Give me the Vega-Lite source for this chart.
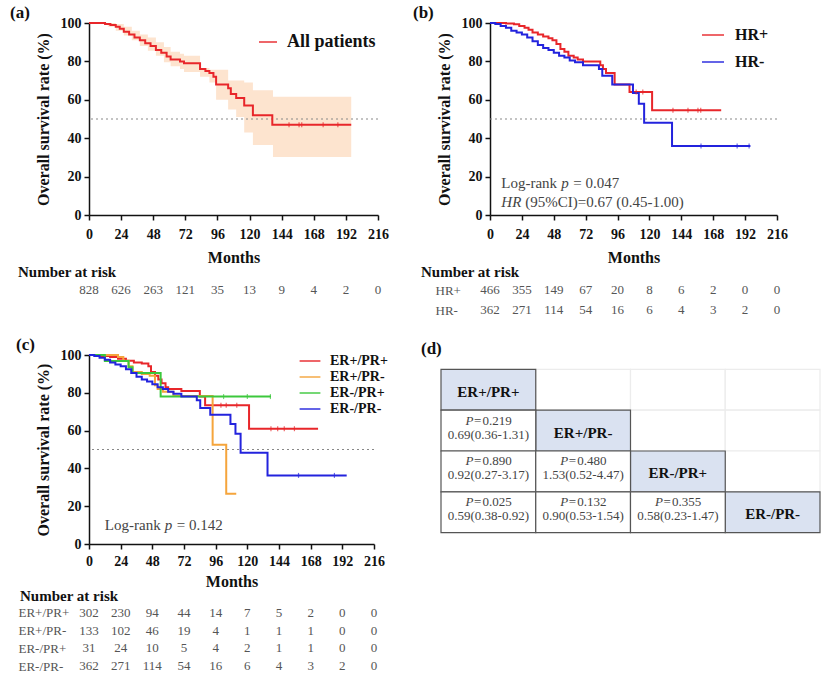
{
"$schema":"https://vega.github.io/schema/vega-lite/v6.json",
"padding":{"left":10,"top":4,"right":0,"bottom":0},
"background":"white",
"config":{
 "font":"Liberation Serif",
 "view":{"stroke":null},
 "axis":{"labelFont":"Liberation Serif","labelFontSize":14,"labelFontWeight":"bold","labelColor":"#111","labelOverlap":false,"titleFont":"Liberation Serif","titleFontSize":16,"titleFontWeight":"bold","titleColor":"#111","domainColor":"#111","domainWidth":1.5,"tickColor":"#111","tickWidth":1.5,"tickSize":5,"grid":false},
 "title":{"font":"Liberation Serif","fontSize":17,"fontWeight":"bold","color":"#111"},
 "legend":{"labelFont":"Liberation Serif","labelFontWeight":"bold","labelColor":"#111"},
 "text":{"font":"Liberation Serif"}
},
"datasets":{
 "kmA":[
  {"g":"All patients","m":0,"s":100},{"g":"All patients","m":8,"s":100},{"g":"All patients","m":12,"s":99.5},{"g":"All patients","m":16,"s":99},{"g":"All patients","m":20,"s":98},{"g":"All patients","m":23,"s":97},{"g":"All patients","m":26,"s":95.5},{"g":"All patients","m":30,"s":94},{"g":"All patients","m":34,"s":92.5},{"g":"All patients","m":38,"s":91},{"g":"All patients","m":42,"s":89.5},{"g":"All patients","m":46,"s":88},{"g":"All patients","m":50,"s":86},{"g":"All patients","m":54,"s":84.5},{"g":"All patients","m":58,"s":82.5},{"g":"All patients","m":61,"s":81},{"g":"All patients","m":68,"s":80},{"g":"All patients","m":71,"s":79},{"g":"All patients","m":83,"s":76},{"g":"All patients","m":87,"s":75},{"g":"All patients","m":90,"s":74},{"g":"All patients","m":93,"s":72},{"g":"All patients","m":95,"s":68},{"g":"All patients","m":104,"s":66},{"g":"All patients","m":106,"s":63},{"g":"All patients","m":110,"s":61},{"g":"All patients","m":116,"s":57},{"g":"All patients","m":122.5,"s":52},{"g":"All patients","m":137,"s":47},{"g":"All patients","m":196,"s":47}
 ],
 "ciA":[
  {"m":0,"lo":100,"hi":100},{"m":8,"lo":99.5,"hi":100},{"m":14,"lo":98,"hi":100},{"m":20,"lo":96,"hi":99.5},{"m":26,"lo":93.5,"hi":98},{"m":32,"lo":91,"hi":96},{"m":38,"lo":88,"hi":94},{"m":44,"lo":85.5,"hi":92.5},{"m":50,"lo":83,"hi":90},{"m":56,"lo":79.5,"hi":87.5},{"m":61,"lo":77.5,"hi":85},{"m":68,"lo":76,"hi":84},{"m":71,"lo":74.5,"hi":83},{"m":83,"lo":72,"hi":76.5},{"m":90,"lo":69,"hi":75.7},{"m":95,"lo":60,"hi":75.7},{"m":104,"lo":55,"hi":70},{"m":110,"lo":51,"hi":70},{"m":116,"lo":43,"hi":69},{"m":122.5,"lo":36.5,"hi":65},{"m":137.5,"lo":30.2,"hi":61.6},{"m":196,"lo":30.2,"hi":61.6}
 ],
 "censA":[
  {"g":"All patients","m":149.5,"s":47},{"g":"All patients","m":157,"s":47},{"g":"All patients","m":159,"s":47},{"g":"All patients","m":175,"s":47},{"g":"All patients","m":186,"s":47}
 ],
 "kmB":[
  {"g":"HR+","m":0,"s":100},{"g":"HR+","m":12,"s":99.8},{"g":"HR+","m":18,"s":99.3},{"g":"HR+","m":22,"s":98.5},{"g":"HR+","m":26,"s":97.5},{"g":"HR+","m":29,"s":96.5},{"g":"HR+","m":32,"s":95},{"g":"HR+","m":36,"s":94},{"g":"HR+","m":40,"s":93},{"g":"HR+","m":44,"s":92},{"g":"HR+","m":47,"s":91},{"g":"HR+","m":50,"s":89},{"g":"HR+","m":53,"s":86.5},{"g":"HR+","m":56,"s":85},{"g":"HR+","m":59,"s":83},{"g":"HR+","m":63,"s":82},{"g":"HR+","m":66,"s":81},{"g":"HR+","m":70,"s":80},{"g":"HR+","m":83,"s":78},{"g":"HR+","m":85,"s":76},{"g":"HR+","m":87.3,"s":74},{"g":"HR+","m":93.8,"s":68},{"g":"HR+","m":105,"s":64},{"g":"HR+","m":122,"s":54.5},{"g":"HR+","m":174,"s":54.5},
  {"g":"HR-","m":0,"s":100},{"g":"HR-","m":4,"s":99.5},{"g":"HR-","m":8,"s":98.5},{"g":"HR-","m":12,"s":97.5},{"g":"HR-","m":16,"s":96},{"g":"HR-","m":20,"s":95},{"g":"HR-","m":24,"s":94},{"g":"HR-","m":28,"s":92.5},{"g":"HR-","m":32,"s":90.5},{"g":"HR-","m":36,"s":88.5},{"g":"HR-","m":40,"s":87},{"g":"HR-","m":44,"s":86},{"g":"HR-","m":48,"s":84.5},{"g":"HR-","m":52,"s":83},{"g":"HR-","m":56,"s":82},{"g":"HR-","m":60,"s":80.5},{"g":"HR-","m":64,"s":79.5},{"g":"HR-","m":70,"s":78},{"g":"HR-","m":82,"s":76},{"g":"HR-","m":84.5,"s":72.5},{"g":"HR-","m":92,"s":68},{"g":"HR-","m":107.6,"s":63.5},{"g":"HR-","m":112,"s":58},{"g":"HR-","m":116,"s":48},{"g":"HR-","m":137,"s":36},{"g":"HR-","m":196,"s":36}
 ],
 "censB":[
  {"g":"HR+","m":137.7,"s":54.5},{"g":"HR+","m":149,"s":54.5},{"g":"HR+","m":156.5,"s":54.5},{"g":"HR+","m":158.6,"s":54.5},{"g":"HR+","m":110,"s":64},{"g":"HR+","m":115,"s":64},
  {"g":"HR-","m":158.8,"s":36},{"g":"HR-","m":186,"s":36},{"g":"HR-","m":195,"s":36}
 ],
 "kmC":[
  {"g":"ER+/PR+","m":0,"s":100},{"g":"ER+/PR+","m":9,"s":99.5},{"g":"ER+/PR+","m":16,"s":99},{"g":"ER+/PR+","m":22,"s":98},{"g":"ER+/PR+","m":28,"s":97},{"g":"ER+/PR+","m":34,"s":96},{"g":"ER+/PR+","m":40,"s":95.5},{"g":"ER+/PR+","m":45,"s":94},{"g":"ER+/PR+","m":47,"s":91},{"g":"ER+/PR+","m":50,"s":89},{"g":"ER+/PR+","m":52.5,"s":87},{"g":"ER+/PR+","m":55,"s":85},{"g":"ER+/PR+","m":58,"s":83},{"g":"ER+/PR+","m":60,"s":82},{"g":"ER+/PR+","m":70,"s":81},{"g":"ER+/PR+","m":84,"s":78},{"g":"ER+/PR+","m":88,"s":73.4},{"g":"ER+/PR+","m":121.3,"s":61},{"g":"ER+/PR+","m":173.6,"s":61},
  {"g":"ER+/PR-","m":0,"s":100},{"g":"ER+/PR-","m":16,"s":100},{"g":"ER+/PR-","m":22,"s":99},{"g":"ER+/PR-","m":26,"s":97},{"g":"ER+/PR-","m":30,"s":94},{"g":"ER+/PR-","m":33,"s":91},{"g":"ER+/PR-","m":40,"s":90},{"g":"ER+/PR-","m":46,"s":89},{"g":"ER+/PR-","m":50,"s":84},{"g":"ER+/PR-","m":52,"s":82},{"g":"ER+/PR-","m":56,"s":80.5},{"g":"ER+/PR-","m":64,"s":78.3},{"g":"ER+/PR-","m":93.7,"s":52.5},{"g":"ER+/PR-","m":104,"s":26.6},{"g":"ER+/PR-","m":111.6,"s":26.6},
  {"g":"ER-/PR+","m":0,"s":100},{"g":"ER-/PR+","m":12,"s":96.8},{"g":"ER-/PR+","m":30,"s":93.5},{"g":"ER-/PR+","m":33,"s":90.5},{"g":"ER-/PR+","m":54.3,"s":78},{"g":"ER-/PR+","m":137.9,"s":78},
  {"g":"ER-/PR-","m":0,"s":100},{"g":"ER-/PR-","m":4,"s":99.5},{"g":"ER-/PR-","m":8,"s":98.5},{"g":"ER-/PR-","m":12,"s":97.5},{"g":"ER-/PR-","m":16,"s":96},{"g":"ER-/PR-","m":20,"s":95},{"g":"ER-/PR-","m":24,"s":94},{"g":"ER-/PR-","m":28,"s":92.5},{"g":"ER-/PR-","m":32,"s":90.5},{"g":"ER-/PR-","m":36,"s":88.5},{"g":"ER-/PR-","m":40,"s":87},{"g":"ER-/PR-","m":44,"s":86},{"g":"ER-/PR-","m":48,"s":84.5},{"g":"ER-/PR-","m":52,"s":83},{"g":"ER-/PR-","m":56,"s":82},{"g":"ER-/PR-","m":60,"s":80.5},{"g":"ER-/PR-","m":64,"s":79.5},{"g":"ER-/PR-","m":70,"s":78},{"g":"ER-/PR-","m":81.7,"s":76},{"g":"ER-/PR-","m":84.3,"s":72},{"g":"ER-/PR-","m":91.9,"s":68.4},{"g":"ER-/PR-","m":107.2,"s":63.5},{"g":"ER-/PR-","m":111,"s":58.3},{"g":"ER-/PR-","m":114.9,"s":48.3},{"g":"ER-/PR-","m":135.3,"s":36.3},{"g":"ER-/PR-","m":195.3,"s":36.3}
 ],
 "censC":[
  {"g":"ER+/PR+","m":137.9,"s":61},{"g":"ER+/PR+","m":143,"s":61},{"g":"ER+/PR+","m":148,"s":61},{"g":"ER+/PR+","m":155.7,"s":61},{"g":"ER+/PR+","m":100,"s":73.4},{"g":"ER+/PR+","m":104,"s":73.4},{"g":"ER+/PR+","m":112,"s":73.4},
  {"g":"ER-/PR+","m":102,"s":78},{"g":"ER-/PR+","m":120,"s":78},{"g":"ER-/PR+","m":137.5,"s":78},
  {"g":"ER-/PR-","m":158.8,"s":36.3},{"g":"ER-/PR-","m":186,"s":36.3}
 ],
 "riskA":[
  {"m":0,"n":828},{"m":24,"n":626},{"m":48,"n":263},{"m":72,"n":121},{"m":96,"n":35},{"m":120,"n":13},{"m":144,"n":9},{"m":168,"n":4},{"m":192,"n":2},{"m":216,"n":0}
 ],
 "riskB":[
  {"g":"HR+","m":0,"n":466},{"g":"HR+","m":24,"n":355},{"g":"HR+","m":48,"n":149},{"g":"HR+","m":72,"n":67},{"g":"HR+","m":96,"n":20},{"g":"HR+","m":120,"n":8},{"g":"HR+","m":144,"n":6},{"g":"HR+","m":168,"n":2},{"g":"HR+","m":192,"n":0},{"g":"HR+","m":216,"n":0},
  {"g":"HR-","m":0,"n":362},{"g":"HR-","m":24,"n":271},{"g":"HR-","m":48,"n":114},{"g":"HR-","m":72,"n":54},{"g":"HR-","m":96,"n":16},{"g":"HR-","m":120,"n":6},{"g":"HR-","m":144,"n":4},{"g":"HR-","m":168,"n":3},{"g":"HR-","m":192,"n":2},{"g":"HR-","m":216,"n":0}
 ],
 "riskC":[
  {"g":"ER+/PR+","m":0,"n":302},{"g":"ER+/PR+","m":24,"n":230},{"g":"ER+/PR+","m":48,"n":94},{"g":"ER+/PR+","m":72,"n":44},{"g":"ER+/PR+","m":96,"n":14},{"g":"ER+/PR+","m":120,"n":7},{"g":"ER+/PR+","m":144,"n":5},{"g":"ER+/PR+","m":168,"n":2},{"g":"ER+/PR+","m":192,"n":0},{"g":"ER+/PR+","m":216,"n":0},
  {"g":"ER+/PR-","m":0,"n":133},{"g":"ER+/PR-","m":24,"n":102},{"g":"ER+/PR-","m":48,"n":46},{"g":"ER+/PR-","m":72,"n":19},{"g":"ER+/PR-","m":96,"n":4},{"g":"ER+/PR-","m":120,"n":1},{"g":"ER+/PR-","m":144,"n":1},{"g":"ER+/PR-","m":168,"n":1},{"g":"ER+/PR-","m":192,"n":0},{"g":"ER+/PR-","m":216,"n":0},
  {"g":"ER-/PR+","m":0,"n":31},{"g":"ER-/PR+","m":24,"n":24},{"g":"ER-/PR+","m":48,"n":10},{"g":"ER-/PR+","m":72,"n":5},{"g":"ER-/PR+","m":96,"n":4},{"g":"ER-/PR+","m":120,"n":2},{"g":"ER-/PR+","m":144,"n":1},{"g":"ER-/PR+","m":168,"n":1},{"g":"ER-/PR+","m":192,"n":0},{"g":"ER-/PR+","m":216,"n":0},
  {"g":"ER-/PR-","m":0,"n":362},{"g":"ER-/PR-","m":24,"n":271},{"g":"ER-/PR-","m":48,"n":114},{"g":"ER-/PR-","m":72,"n":54},{"g":"ER-/PR-","m":96,"n":16},{"g":"ER-/PR-","m":120,"n":6},{"g":"ER-/PR-","m":144,"n":4},{"g":"ER-/PR-","m":168,"n":3},{"g":"ER-/PR-","m":192,"n":2},{"g":"ER-/PR-","m":216,"n":0}
 ],
 "tableD":[
  {"r":"ER+/PR+","c":"ER+/PR-","kind":"upper","label":"","p":"","hr":""},
  {"r":"ER+/PR+","c":"ER-/PR+","kind":"upper","label":"","p":"","hr":""},
  {"r":"ER+/PR+","c":"ER-/PR-","kind":"upper","label":"","p":"","hr":""},
  {"r":"ER+/PR-","c":"ER-/PR+","kind":"upper","label":"","p":"","hr":""},
  {"r":"ER+/PR-","c":"ER-/PR-","kind":"upper","label":"","p":"","hr":""},
  {"r":"ER-/PR+","c":"ER-/PR-","kind":"upper","label":"","p":"","hr":""},
  {"r":"ER+/PR+","c":"ER+/PR+","kind":"diag","label":"ER+/PR+","p":"","hr":""},
  {"r":"ER+/PR-","c":"ER+/PR-","kind":"diag","label":"ER+/PR-","p":"","hr":""},
  {"r":"ER-/PR+","c":"ER-/PR+","kind":"diag","label":"ER-/PR+","p":"","hr":""},
  {"r":"ER-/PR-","c":"ER-/PR-","kind":"diag","label":"ER-/PR-","p":"","hr":""},
  {"r":"ER+/PR-","c":"ER+/PR+","kind":"lower","label":"","p":"0.219","hr":"0.69(0.36-1.31)"},
  {"r":"ER-/PR+","c":"ER+/PR+","kind":"lower","label":"","p":"0.890","hr":"0.92(0.27-3.17)"},
  {"r":"ER-/PR+","c":"ER+/PR-","kind":"lower","label":"","p":"0.480","hr":"1.53(0.52-4.47)"},
  {"r":"ER-/PR-","c":"ER+/PR+","kind":"lower","label":"","p":"0.025","hr":"0.59(0.38-0.92)"},
  {"r":"ER-/PR-","c":"ER+/PR-","kind":"lower","label":"","p":"0.132","hr":"0.90(0.53-1.54)"},
  {"r":"ER-/PR-","c":"ER-/PR+","kind":"lower","label":"","p":"0.355","hr":"0.58(0.23-1.47)"}
 ]
},
"resolve":{"scale":{"color":"independent"},"legend":{"color":"independent"}},
"spacing":16,
"vconcat":[
 {"hconcat":[
  {"vconcat":[
   {"width":289,"height":192,
    "title":{"text":"(a)","anchor":"start","frame":"group","dx":-79,"offset":-6},
    "layer":[
     {"data":{"name":"ciA"},"mark":{"type":"area","interpolate":"step-after","color":"#fde4cf"},
      "encoding":{
       "x":{"field":"m","type":"quantitative","title":"Months","scale":{"domain":[0,216],"nice":false},"axis":{"values":[0,24,48,72,96,120,144,168,192,216],"tickCount":20,"labelOverlap":false,"labelPadding":7,"titlePadding":8,"labelFlush":false}},
       "y":{"field":"lo","type":"quantitative","title":"Overall survival rate (%)","scale":{"domain":[0,100],"nice":false},"axis":{"values":[0,20,40,60,80,100],"tickCount":20,"labelOverlap":false,"labelPadding":3,"titlePadding":9}},
       "y2":{"field":"hi"}}},
     {"data":{"values":[{}]},"mark":{"type":"rule","color":"#888","strokeDash":[2,3],"strokeWidth":1.2},"encoding":{"y":{"datum":50}}},
     {"data":{"name":"kmA"},"mark":{"type":"line","interpolate":"step-after","strokeWidth":2},
      "encoding":{
       "x":{"field":"m","type":"quantitative","title":"Months"},
       "y":{"field":"s","type":"quantitative","title":"Overall survival rate (%)"},
       "color":{"field":"g","type":"nominal","scale":{"domain":["All patients"],"range":["#e8262a"]},
        "legend":{"title":null,"orient":"none","legendX":169,"legendY":9,"symbolType":"stroke","symbolSize":324,"symbolStrokeWidth":2,"labelFontSize":18,"labelOffset":9}}}},
     {"data":{"name":"censA"},"mark":{"type":"tick","orient":"vertical","size":5,"thickness":1.2},
      "encoding":{
       "x":{"field":"m","type":"quantitative","title":"Months"},
       "y":{"field":"s","type":"quantitative","title":"Overall survival rate (%)"},
       "color":{"field":"g","type":"nominal"}}}
    ]},
   {"width":289,"height":20,
    "title":{"text":"Number at risk","anchor":"start","frame":"group","dx":-71,"offset":0,"fontSize":15},
    "data":{"name":"riskA"},
    "mark":{"type":"text","fontSize":13,"color":"#555"},
    "encoding":{
     "x":{"field":"m","type":"quantitative","scale":{"domain":[0,216],"nice":false},"axis":null},
     "text":{"field":"n","type":"quantitative"}}}
  ],"spacing":0},
  {"vconcat":[
   {"width":287,"height":192,
    "title":{"text":"(b)","anchor":"start","frame":"group","dx":-77,"offset":-6},
    "layer":[
     {"data":{"values":[{}]},"mark":{"type":"rule","color":"#888","strokeDash":[2,3],"strokeWidth":1.2},"encoding":{"y":{"datum":50,"type":"quantitative","scale":{"domain":[0,100],"nice":false}}}},
     {"data":{"name":"kmB"},"mark":{"type":"line","interpolate":"step-after","strokeWidth":2},
      "encoding":{
       "x":{"field":"m","type":"quantitative","title":"Months","scale":{"domain":[0,216],"nice":false},"axis":{"values":[0,24,48,72,96,120,144,168,192,216],"tickCount":20,"labelOverlap":false,"labelPadding":7,"titlePadding":8,"labelFlush":false}},
       "y":{"field":"s","type":"quantitative","title":"Overall survival rate (%)","scale":{"domain":[0,100],"nice":false},"axis":{"values":[0,20,40,60,80,100],"tickCount":20,"labelOverlap":false,"labelPadding":3,"titlePadding":9}},
       "color":{"field":"g","type":"nominal","scale":{"domain":["HR+","HR-"],"range":["#e8262a","#2323dd"]},
        "legend":{"title":null,"orient":"none","legendX":211,"legendY":0,"symbolType":"stroke","symbolSize":484,"symbolStrokeWidth":2,"labelFontSize":16,"labelOffset":10,"rowPadding":7}}}},
     {"data":{"name":"censB"},"mark":{"type":"tick","orient":"vertical","size":5,"thickness":1.2},
      "encoding":{
       "x":{"field":"m","type":"quantitative","title":"Months"},
       "y":{"field":"s","type":"quantitative","title":"Overall survival rate (%)"},
       "color":{"field":"g","type":"nominal"}}},
     {"data":{"values":[{}]},"mark":{"type":"text","text":"Log-rank","align":"left","baseline":"middle","fontSize":15,"color":"#444"},"encoding":{"x":{"datum":8.5},"y":{"datum":16.7}}},
     {"data":{"values":[{}]},"mark":{"type":"text","text":"p","align":"left","baseline":"middle","fontSize":15,"fontStyle":"italic","color":"#444","dx":60},"encoding":{"x":{"datum":8.5},"y":{"datum":16.7}}},
     {"data":{"values":[{}]},"mark":{"type":"text","text":"= 0.047","align":"left","baseline":"middle","fontSize":15,"color":"#444","dx":72},"encoding":{"x":{"datum":8.5},"y":{"datum":16.7}}},
     {"data":{"values":[{}]},"mark":{"type":"text","text":"HR","align":"left","baseline":"middle","fontSize":15,"fontStyle":"italic","color":"#444"},"encoding":{"x":{"datum":8.5},"y":{"datum":6.8}}},
     {"data":{"values":[{}]},"mark":{"type":"text","text":"(95%CI)=0.67 (0.45-1.00)","align":"left","baseline":"middle","fontSize":15,"color":"#444","dx":24},"encoding":{"x":{"datum":8.5},"y":{"datum":6.8}}}
    ]},
   {"width":287,"height":40,
    "title":{"text":"Number at risk","anchor":"start","frame":"group","dx":-69,"offset":0,"fontSize":15},
    "data":{"name":"riskB"},
    "mark":{"type":"text","fontSize":13,"color":"#555"},
    "encoding":{
     "x":{"field":"m","type":"quantitative","scale":{"domain":[0,216],"nice":false},"axis":null},
     "y":{"field":"g","type":"nominal","sort":["HR+","HR-"],"axis":{"title":null,"domain":false,"ticks":false,"labelAlign":"left","labelPadding":55,"labelFontWeight":"normal","labelColor":"#555","labelFontSize":13}},
     "text":{"field":"n","type":"quantitative"}}}
  ],"spacing":0}
 ],"spacing":24,"resolve":{"scale":{"color":"independent"},"legend":{"color":"independent"}}},
 {"hconcat":[
  {"vconcat":[
   {"width":285,"height":189,
    "title":{"text":"(c)","anchor":"start","frame":"group","dx":-73,"offset":-6},
    "layer":[
     {"data":{"values":[{}]},"mark":{"type":"rule","color":"#888","strokeDash":[2,3],"strokeWidth":1.2},"encoding":{"y":{"datum":50,"type":"quantitative","scale":{"domain":[0,100],"nice":false}}}},
     {"data":{"name":"kmC"},"mark":{"type":"line","interpolate":"step-after","strokeWidth":2},
      "encoding":{
       "x":{"field":"m","type":"quantitative","title":"Months","scale":{"domain":[0,216],"nice":false},"axis":{"values":[0,24,48,72,96,120,144,168,192,216],"tickCount":20,"labelOverlap":false,"labelPadding":5,"titlePadding":5,"labelFlush":false}},
       "y":{"field":"s","type":"quantitative","title":"Overall survival rate (%)","scale":{"domain":[0,100],"nice":false},"axis":{"values":[0,20,40,60,80,100],"tickCount":20,"labelOverlap":false,"labelPadding":3,"titlePadding":9}},
       "color":{"field":"g","type":"nominal","scale":{"domain":["ER+/PR+","ER+/PR-","ER-/PR+","ER-/PR-"],"range":["#e8262a","#f5a53c","#3cc83c","#2323dd"]},
        "legend":{"title":null,"orient":"none","legendX":212,"legendY":-3,"symbolType":"M-1.3,0L1.3,0","symbolSize":256,"symbolStrokeWidth":2,"labelFontSize":14,"labelOffset":11,"rowPadding":0}}}},
     {"data":{"name":"censC"},"mark":{"type":"tick","orient":"vertical","size":5,"thickness":1.2},
      "encoding":{
       "x":{"field":"m","type":"quantitative","title":"Months"},
       "y":{"field":"s","type":"quantitative","title":"Overall survival rate (%)"},
       "color":{"field":"g","type":"nominal"}}},
     {"data":{"values":[{}]},"mark":{"type":"text","text":"Log-rank","align":"left","baseline":"middle","fontSize":15,"color":"#444"},"encoding":{"x":{"datum":12},"y":{"datum":10}}},
     {"data":{"values":[{}]},"mark":{"type":"text","text":"p","align":"left","baseline":"middle","fontSize":15,"fontStyle":"italic","color":"#444","dx":60},"encoding":{"x":{"datum":12},"y":{"datum":10}}},
     {"data":{"values":[{}]},"mark":{"type":"text","text":"= 0.142","align":"left","baseline":"middle","fontSize":15,"color":"#444","dx":72},"encoding":{"x":{"datum":12},"y":{"datum":10}}}
    ]},
   {"width":285,"height":71,
    "title":{"text":"Number at risk","anchor":"start","frame":"group","dx":-69,"offset":0,"fontSize":15},
    "data":{"name":"riskC"},
    "mark":{"type":"text","fontSize":13,"color":"#555"},
    "encoding":{
     "x":{"field":"m","type":"quantitative","scale":{"domain":[0,216],"nice":false},"axis":null},
     "y":{"field":"g","type":"nominal","sort":["ER+/PR+","ER+/PR-","ER-/PR+","ER-/PR-"],"axis":{"title":null,"domain":false,"ticks":false,"labelAlign":"left","labelPadding":71,"labelFontWeight":"normal","labelColor":"#555","labelFontSize":13}},
     "text":{"field":"n","type":"quantitative"}}}
  ],"spacing":0},
  {"width":379,"height":192,
   "title":{"text":"(d)","anchor":"start","frame":"group","dx":-20,"offset":-3},
   "data":{"name":"tableD"},
   "encoding":{
    "x":{"field":"c","type":"ordinal","sort":["ER+/PR+","ER+/PR-","ER-/PR+","ER-/PR-"],"axis":null,"scale":{"paddingInner":0,"paddingOuter":0}},
    "y":{"field":"r","type":"ordinal","sort":["ER+/PR+","ER+/PR-","ER-/PR+","ER-/PR-"],"axis":null,"scale":{"paddingInner":0,"paddingOuter":0.35}}
   },
   "layer":[
    {"mark":{"type":"rect","strokeWidth":1.2},
     "encoding":{
      "fill":{"condition":{"test":"datum.kind==='diag'","value":"#dae2f1"},"value":"white"},
      "stroke":{"condition":{"test":"datum.kind==='upper'","value":"#ececec"},"value":"#555"}}},
    {"transform":[{"filter":"datum.kind==='diag'"}],"mark":{"type":"text","fontSize":15,"fontWeight":"bold","color":"#111","dy":2},"encoding":{"text":{"field":"label"}}},
    {"transform":[{"filter":"datum.kind==='lower'"}],"mark":{"type":"text","text":"P","fontSize":13,"fontStyle":"italic","align":"left","color":"#444","dx":-23,"dy":-10}},
    {"transform":[{"filter":"datum.kind==='lower'"}],"mark":{"type":"text","text":"=","fontSize":13,"align":"left","color":"#444","dx":-14.5,"dy":-10}},
    {"transform":[{"filter":"datum.kind==='lower'"}],"mark":{"type":"text","fontSize":13,"align":"left","color":"#444","dx":-6,"dy":-10},"encoding":{"text":{"field":"p"}}},
    {"transform":[{"filter":"datum.kind==='lower'"}],"mark":{"type":"text","fontSize":13,"color":"#444","dy":4},"encoding":{"text":{"field":"hr"}}}
   ]}
 ],"spacing":33,"resolve":{"scale":{"color":"independent"},"legend":{"color":"independent"}}}
]
}
